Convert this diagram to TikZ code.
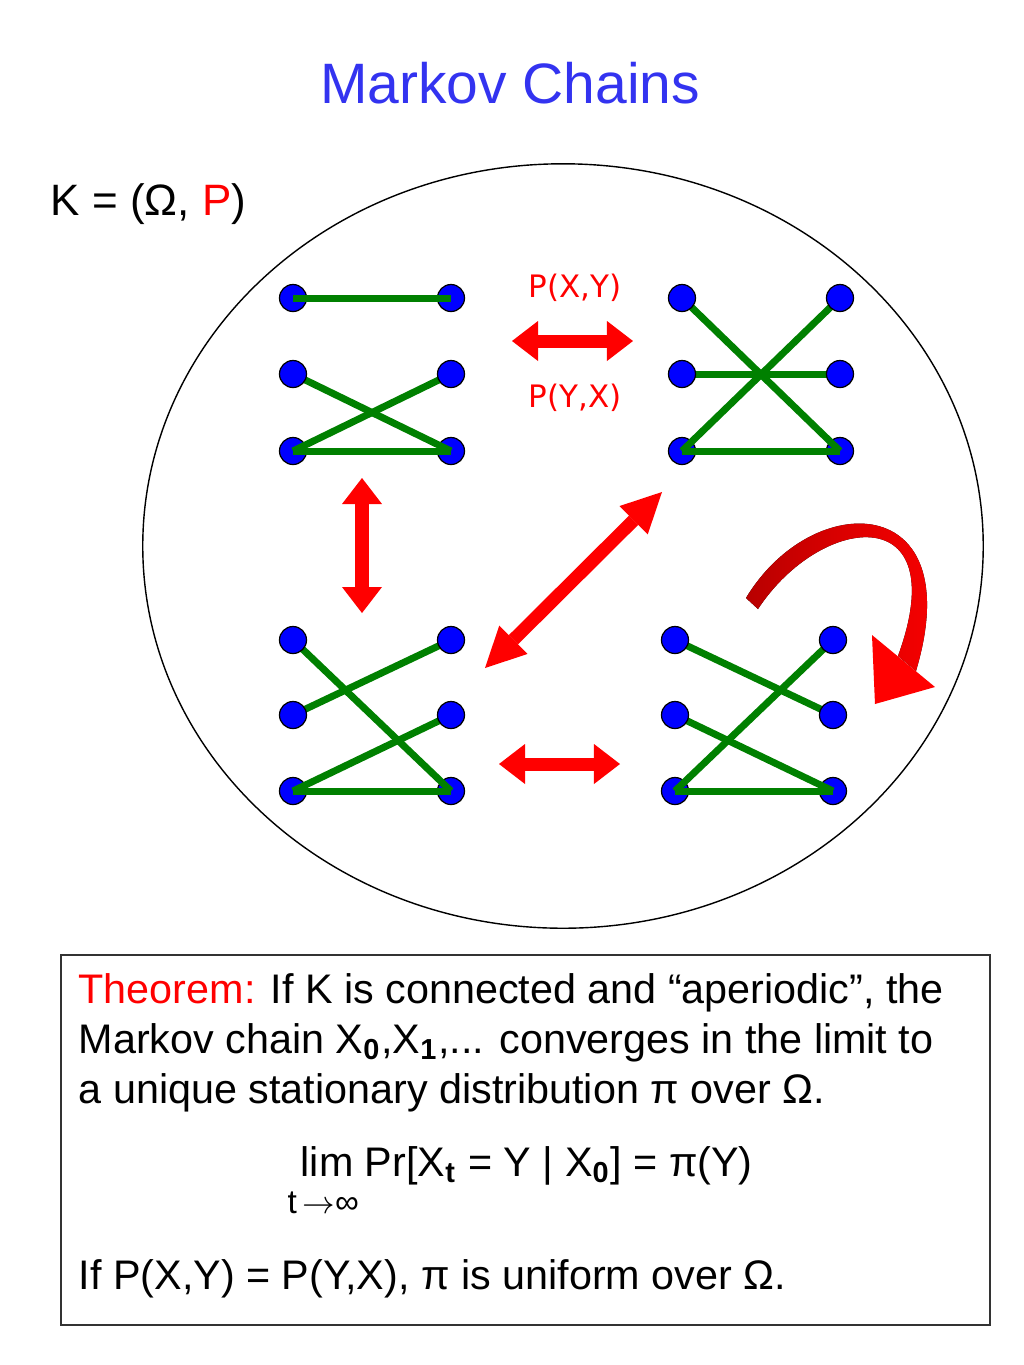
\documentclass[tikz,border=0pt]{standalone}
\usepackage{fontspec}
\setmainfont{Liberation Sans}
\newfontfamily\labelfont{DejaVu Sans}
\usetikzlibrary{arrows.meta,shapes.geometric}
\definecolor{titleblue}{RGB}{51,51,240}
\definecolor{edgegreen}{RGB}{0,128,0}
\pgfdeclarelayer{back}
\pgfdeclarelayer{edges}
\pgfdeclarelayer{front}
\pgfsetlayers{back,edges,main,front}
\begin{document}
\begin{tikzpicture}[x=0.01cm,y=-0.01cm,
  dot/.style={circle, fill=blue, draw=black, line width=0.35pt, minimum size=2.7mm, inner sep=0pt},
  gedge/.style={draw=edgegreen, line width=0.7mm},
  redarrow/.style={draw=red, line width=1.3mm,
     {Triangle[length=2.6mm,width=4mm,line width=0pt]}-{Triangle[length=2.6mm,width=4mm,line width=0pt]}},
  diagarrow/.style={draw=red, line width=1.3mm,
     {Triangle[length=4mm,width=4mm,line width=0pt]}-{Triangle[length=4mm,width=4mm,line width=0pt]}},
  txt/.style={inner sep=0pt, anchor=base west},
  thmfont/.style={font=\fontsize{11.75pt}{14pt}\selectfont},
  plabel/.style={inner sep=0pt, anchor=base, text=red, font=\labelfont\fontsize{8.8pt}{10pt}\selectfont}]
\useasboundingbox (0,0) rectangle (1024,1365);

% title
\node[inner sep=0pt, anchor=base, text=titleblue, font=\fontsize{16.2pt}{19pt}\selectfont] (title) at (510,103) {Markov Chains};
\node[txt, font=\fontsize{12.5pt}{15pt}\selectfont] (kdef) at (50,215) {K = (Ω, \textcolor{red}{P})};

% state space
\node[draw, ellipse, line width=0.4pt, minimum width=8.4cm, minimum height=7.64cm, inner sep=0pt] (space) at (563,546) {};

% row-3 dots (drawn beneath the edges)
\begin{pgfonlayer}{back}
\node[dot] (aL3) at (293,451) {};
\node[dot] (aR3) at (451,451) {};
\node[dot] (bL3) at (682,451) {};
\node[dot] (bR3) at (840,451) {};
\node[dot] (cL3) at (293,791) {};
\node[dot] (cR3) at (451,791) {};
\node[dot] (dL3) at (675,791) {};
\node[dot] (dR3) at (833,791) {};
\end{pgfonlayer}

% other dots
\node[dot] (aL1) at (293,298) {};
\node[dot] (aR1) at (451,298) {};
\node[dot] (aL2) at (293,374) {};
\node[dot] (aR2) at (451,374) {};
\node[dot] (bL1) at (682,298) {};
\node[dot] (bR1) at (840,298) {};
\node[dot] (bL2) at (682,374) {};
\node[dot] (bR2) at (840,374) {};
\node[dot] (cL1) at (293,640) {};
\node[dot] (cR1) at (451,640) {};
\node[dot] (cL2) at (293,715) {};
\node[dot] (cR2) at (451,715) {};
\node[dot] (dL1) at (675,640) {};
\node[dot] (dR1) at (833,640) {};
\node[dot] (dL2) at (675,715) {};
\node[dot] (dR2) at (833,715) {};

% edges
\begin{pgfonlayer}{edges}
\draw[gedge] (aL2.center) -- (aR3.center);
\draw[gedge] (aR2.center) -- (aL3.center);
\draw[gedge] (aL3.center) -- (aR3.center);
\draw[gedge] (bL1.center) -- (bR3.center);
\draw[gedge] (bR1.center) -- (bL3.center);
\draw[gedge] (bL2.center) -- (bR2.center);
\draw[gedge] (bL3.center) -- (bR3.center);
\draw[gedge] (cL1.center) -- (cR3.center);
\draw[gedge] (cR1.center) -- (cL2.center);
\draw[gedge] (cR2.center) -- (cL3.center);
\draw[gedge] (cL3.center) -- (cR3.center);
\draw[gedge] (dL1.center) -- (dR2.center);
\draw[gedge] (dR1.center) -- (dL3.center);
\draw[gedge] (dL2.center) -- (dR3.center);
\draw[gedge] (dL3.center) -- (dR3.center);
\end{pgfonlayer}
\begin{pgfonlayer}{front}
\draw[gedge] (aL1.center) -- (aR1.center);
\end{pgfonlayer}

% transition arrows
\coordinate (topA) at (512,341);
\coordinate (topB) at (633,341);
\coordinate (vertA) at (362,478);
\coordinate (vertB) at (362,613);
\coordinate (diagA) at (662,492);
\coordinate (diagB) at (485,668);
\coordinate (botA) at (499,764);
\coordinate (botB) at (620,764);
\draw[redarrow] (topA) -- (topB);
\draw[redarrow] (vertA) -- (vertB);
\draw[diagarrow] (diagA) -- (diagB);
\draw[redarrow] (botA) -- (botB);

\node[plabel] (pxy) at (575,297) {P(X,Y)};
\node[plabel] (pyx) at (575,407) {P(Y,X)};

% self-loop arrow
\fill[left color=red!72!black, right color=red, middle color=red!88!black]
  (746,598) .. controls (812,488) and (970,490) .. (916,671)
  -- (898,656) .. controls (955,500) and (822,512) .. (758,609) -- cycle;
\fill[red] (872,635) -- (935,687) -- (875,704) -- cycle;

% theorem box
\node[draw=black!80, line width=0.5pt, rectangle, minimum width=9.29cm, minimum height=3.7cm, inner sep=0pt] (thm) at (525.5,1140) {};
\node[txt, thmfont] (l1) at (78,1003) {\textcolor{red}{Theorem:} If K is connected and “aperiodic”, the};
\node[txt, thmfont] (l2) at (78,1053) {Markov chain X\textsubscript{\textbf{0}},X\textsubscript{\textbf{1}},... converges in the limit to};
\node[txt, thmfont] (l3) at (78,1103) {a unique stationary distribution π over Ω.};
\node[txt, thmfont] (lim) at (300,1176) {lim Pr[X\textsubscript{\textbf{t}} = Y | X\textsubscript{\textbf{0}}] = π(Y)};
\node[txt, font=\fontsize{9.5pt}{11pt}\selectfont] (tinf) at (287,1213) {t\,\(\rightarrow\)∞};
\node[txt, thmfont] (l4) at (78,1289) {If P(X,Y) = P(Y,X), π is uniform over Ω.};
\end{tikzpicture}
\end{document}
